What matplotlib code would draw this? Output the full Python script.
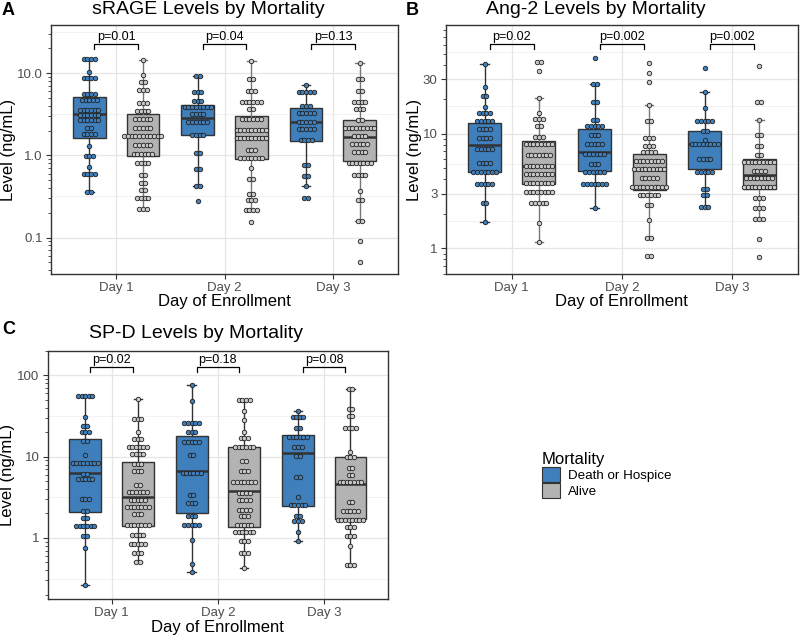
import matplotlib
matplotlib.use("Agg")
import matplotlib.pyplot as plt
from matplotlib.patches import Patch
from matplotlib.ticker import FixedLocator, LogLocator, NullFormatter
import matplotlib.transforms as mtransforms
import numpy as np

plt.rcParams['font.family'] = ['Liberation Sans', 'DejaVu Sans']

DAYS = ["Day 1", "Day 2", "Day 3"]
GROUPS = ["Death or Hospice", "Alive"]

# ---------------- sRAGE ----------------
SRAGE_D1_DEATH_V = [14.7, 10.3, 8.7, 5.5, 4.75, 3.6, 3.1, 2.66, 2.13, 1.8, 1.3, 0.99, 0.73, 0.6, 0.36]
SRAGE_D1_DEATH_N = [4, 1, 4, 4, 5, 6, 6, 6, 2, 4, 1, 3, 1, 4, 2]
SRAGE_D1_ALIVE_V = [14.3, 9.6, 7.9, 6.2, 4.36, 3.43, 2.77, 2.17, 1.70, 1.32, 1.04, 0.80, 0.58, 0.46, 0.375, 0.30, 0.22]
SRAGE_D1_ALIVE_N = [1, 1, 2, 3, 3, 4, 5, 5, 11, 5, 6, 4, 2, 2, 2, 4, 3]
SRAGE_D2_DEATH_V = [9.2, 5.94, 4.58, 3.87, 3.21, 2.57, 1.77, 1.07, 0.69, 0.42, 0.28]
SRAGE_D2_DEATH_N = [2, 3, 3, 8, 4, 6, 4, 2, 2, 2, 1]
SRAGE_D2_ALIVE_V = [14.2, 8.55, 6.0, 4.45, 3.65, 2.79, 2.03, 1.64, 1.17, 0.935, 0.695, 0.52, 0.34, 0.286, 0.216, 0.156]
SRAGE_D2_ALIVE_N = [1, 2, 3, 6, 2, 6, 9, 9, 3, 7, 1, 2, 2, 3, 4, 1]
SRAGE_D3_DEATH_V = [7.2, 5.9, 4.0, 3.3, 2.52, 2.11, 1.53, 0.77, 0.565, 0.42, 0.30]
SRAGE_D3_DEATH_N = [1, 5, 3, 5, 5, 5, 4, 2, 2, 1, 2]
SRAGE_D3_ALIVE_V = [13.4, 8.55, 6.06, 4.49, 3.66, 2.69, 2.17, 1.72, 1.37, 1.09, 0.81, 0.57, 0.37, 0.29, 0.16, 0.092, 0.050]
SRAGE_D3_ALIVE_N = [1, 2, 2, 4, 3, 2, 9, 4, 5, 4, 7, 4, 1, 2, 2, 1, 1]
# box stats, order: D1 death, D1 alive, D2 death, D2 alive, D3 death, D3 alive
SRAGE_WLO = [0.36, 0.22, 0.42, 0.216, 0.42, 0.16]
SRAGE_Q1 = [1.64, 0.98, 1.75, 0.91, 1.48, 0.86]
SRAGE_MED = [3.16, 1.72, 2.87, 1.67, 2.54, 1.67]
SRAGE_Q3 = [5.16, 3.18, 4.13, 2.98, 3.73, 2.67]
SRAGE_WHI = [14.7, 14.3, 9.2, 14.2, 7.2, 13.4]
SRAGE_P = ["p=0.01", "p=0.04", "p=0.13"]

# ---------------- Ang-2 ----------------
ANG2_D1_DEATH_V = [40.8, 25.7, 21.3, 17.1, 15.2, 12.9, 10.9, 9.2, 7.4, 5.52, 4.63, 3.66, 2.47, 1.71]
ANG2_D1_DEATH_N = [1, 1, 2, 1, 4, 5, 4, 4, 5, 4, 7, 5, 2, 1]
ANG2_D1_ALIVE_V = [42.5, 35.3, 20.6, 15.1, 13.5, 11.7, 9.4, 8.13, 6.47, 5.22, 4.45, 3.74, 3.12, 2.5, 1.66, 1.14]
ANG2_D1_ALIVE_N = [2, 1, 1, 1, 3, 2, 3, 8, 7, 8, 8, 8, 8, 5, 1, 1]
ANG2_D2_DEATH_V = [45.5, 27.3, 18.8, 13.2, 11.7, 9.75, 8.13, 6.65, 5.44, 4.63, 3.62, 2.25]
ANG2_D2_DEATH_N = [1, 2, 2, 2, 5, 3, 5, 6, 3, 6, 7, 1]
ANG2_D2_ALIVE_V = [41.1, 33.6, 28.4, 17.7, 13.0, 9.2, 7.81, 6.87, 5.78, 4.92, 4.1, 3.43, 2.9, 2.39, 1.75, 1.22, 0.86]
ANG2_D2_ALIVE_N = [1, 1, 1, 1, 2, 3, 3, 4, 8, 9, 5, 10, 6, 2, 1, 2, 2]
ANG2_D3_DEATH_V = [37.4, 23.0, 16.9, 12.9, 10.6, 8.8, 8.08, 6.01, 4.66, 3.27, 2.94, 2.3]
ANG2_D3_DEATH_N = [1, 1, 1, 5, 2, 1, 8, 4, 5, 2, 2, 3]
ANG2_D3_ALIVE_V = [39.2, 18.8, 13.2, 9.8, 7.76, 6.47, 5.66, 4.75, 4.1, 3.43, 2.75, 2.23, 1.81, 1.21, 0.84]
ANG2_D3_ALIVE_N = [1, 2, 1, 2, 2, 2, 9, 4, 8, 9, 3, 3, 3, 1, 1]
ANG2_WLO = [1.71, 1.14, 2.25, 1.22, 2.3, 1.81]
ANG2_Q1 = [4.63, 3.62, 4.7, 3.21, 4.92, 3.29]
ANG2_MED = [7.97, 5.22, 6.97, 4.82, 8.08, 4.39]
ANG2_Q3 = [12.4, 8.69, 11.0, 6.61, 10.6, 6.01]
ANG2_WHI = [40.8, 20.6, 27.3, 17.7, 23.0, 13.2]
ANG2_P = ["p=0.02", "p=0.002", "p=0.002"]

# ---------------- SP-D ----------------
SPD_D1_DEATH_V = [55.8, 30.5, 24.1, 20.3, 15.7, 10.4, 8.44, 6.18, 5.36, 3.05, 2.15, 1.75, 1.42, 1.06, 0.754, 0.264]
SPD_D1_DEATH_N = [5, 1, 2, 3, 2, 1, 8, 2, 5, 3, 2, 2, 6, 2, 1, 1]
SPD_D1_ALIVE_V = [51.2, 28.8, 20.3, 16.7, 13.2, 10.7, 8.13, 6.61, 4.53, 3.68, 2.93, 2.38, 1.97, 1.43, 1.1, 0.85, 0.66, 0.50]
SPD_D1_ALIVE_N = [1, 3, 1, 3, 6, 4, 3, 3, 2, 6, 5, 7, 3, 7, 4, 5, 3, 2]
SPD_D2_DEATH_V = [76.2, 48.9, 25.8, 20.1, 15.2, 10.5, 6.36, 3.41, 2.69, 1.88, 1.45, 0.935, 0.483, 0.385]
SPD_D2_DEATH_N = [1, 1, 5, 3, 5, 2, 6, 2, 3, 3, 5, 1, 1, 1]
SPD_D2_ALIVE_V = [49.4, 36.5, 28.0, 20.1, 17.1, 13.3, 8.77, 6.67, 4.89, 3.61, 2.9, 2.21, 1.86, 1.46, 1.17, 0.92, 0.65, 0.43]
SPD_D2_ALIVE_N = [4, 1, 1, 1, 3, 6, 2, 3, 7, 4, 4, 4, 3, 5, 6, 3, 3, 1]
SPD_D3_DEATH_V = [36.8, 30.5, 22.7, 17.5, 13.0, 10.1, 5.63, 3.22, 2.57, 1.88, 1.6, 1.19, 0.93]
SPD_D3_DEATH_N = [1, 4, 2, 6, 3, 2, 2, 1, 5, 2, 3, 1, 1]
SPD_D3_ALIVE_V = [68.7, 38.9, 31.7, 22.5, 11.5, 9.8, 7.26, 5.9, 4.84, 2.75, 2.17, 1.68, 1.38, 1.07, 0.80, 0.466]
SPD_D3_ALIVE_N = [2, 2, 2, 4, 1, 3, 2, 2, 7, 2, 5, 8, 3, 3, 1, 3]
SPD_WLO = [0.264, 0.50, 0.385, 0.43, 0.93, 0.466]
SPD_Q1 = [2.09, 1.42, 2.01, 1.38, 2.5, 1.7]
SPD_MED = [6.25, 3.22, 6.61, 3.75, 11.1, 4.57]
SPD_Q3 = [16.4, 8.6, 18.0, 13.2, 18.7, 9.8]
SPD_WHI = [55.8, 51.2, 76.2, 49.4, 36.8, 68.7]
SPD_P = ["p=0.02", "p=0.18", "p=0.08"]

# ---------------- style ----------------
BLUE = "#3F7FBC"
GRAY = "#B3B3B3"
DOT_GRAY = "#CACACA"
EDGE = "#333333"
OFFSET = 0.247
BOX_W = 0.30
DOT_STEP = 0.034

fig = plt.figure(figsize=(8, 6.37), dpi=100)


def draw_panel(rect, title, title_xy, letter, letter_xy, dots, wlo, q1, med, q3, whi,
               pvals, ylim, yticks, yticklabels, breaks, ylab_x, xlab_y, brk_y, alive_whisk):
    ax = fig.add_axes(rect)
    ax.set_yscale('log')
    ax.set_xlim(0.4, 3.6)
    ax.set_ylim(*ylim)
    # minor gridlines midway between breaks (log space), ggplot-style
    lb = np.log10(breaks)
    bd = lb[1] - lb[0]
    ext = np.concatenate([[lb[0] - bd], lb, [lb[-1] + bd]])
    for m in (ext[:-1] + ext[1:]) / 2:
        ax.axhline(10 ** m, color="#F0F0F0", lw=0.6, zorder=0)
    for b in breaks:
        ax.axhline(b, color="#E6E6E6", lw=0.9, zorder=0)
    for d in range(3):
        ax.axvline(d + 1, color="#E6E6E6", lw=0.9, zorder=0)

    # boxplots
    for g, (face, wcol) in enumerate([(BLUE, EDGE), (GRAY, alive_whisk)]):
        stats, pos = [], []
        for d in range(3):
            i = d * 2 + g
            stats.append(dict(whislo=wlo[i], q1=q1[i], med=med[i], q3=q3[i], whishi=whi[i], fliers=[]))
            pos.append(d + 1 + (-OFFSET if g == 0 else OFFSET))
        ax.bxp(stats, positions=pos, widths=BOX_W, patch_artist=True, showfliers=False,
               manage_ticks=False, capwidths=0.08,
               boxprops=dict(facecolor=face, edgecolor=EDGE, linewidth=1.0),
               medianprops=dict(color=EDGE, linewidth=1.8),
               whiskerprops=dict(color=wcol, linewidth=1.0),
               capprops=dict(color=wcol, linewidth=1.0))

    # dot rows
    for d in range(3):
        for g in range(2):
            vals, cnts = dots[d][g]
            x0 = d + 1 + (-OFFSET if g == 0 else OFFSET)
            xs, ys = [], []
            for v, n in zip(vals, cnts):
                off = (np.arange(n) - (n - 1) / 2) * DOT_STEP
                xs.extend(x0 + off)
                ys.extend([v] * n)
            ax.scatter(xs, ys, s=10.5, facecolor=BLUE if g == 0 else DOT_GRAY,
                       edgecolor="#222222", linewidths=0.6, zorder=5)

    # significance brackets
    tr = mtransforms.blended_transform_factory(ax.transData, ax.transAxes)
    for d in range(3):
        xl, xr = d + 1 - 0.2, d + 1 + 0.2
        ax.plot([xl, xl, xr, xr], [brk_y[1], brk_y[0], brk_y[0], brk_y[1]],
                color="black", lw=0.9, transform=tr, clip_on=False, zorder=6)
        ax.text(d + 1, brk_y[0] + 0.004, pvals[d], ha='center', va='bottom',
                fontsize=9, transform=tr, color="black")

    # axes styling
    ax.set_xticks([1, 2, 3])
    ax.set_xticklabels(DAYS)
    ax.yaxis.set_major_locator(FixedLocator(yticks))
    ax.set_yticklabels(yticklabels)
    ax.yaxis.set_minor_locator(LogLocator(base=10, subs=np.arange(2, 10)))
    ax.yaxis.set_minor_formatter(NullFormatter())
    ax.tick_params(axis='both', which='major', direction='out', length=3.5, width=0.8,
                   color=EDGE, labelcolor="#4D4D4D", labelsize=9.5, pad=2.5)
    ax.tick_params(axis='y', which='minor', direction='out', length=2.0, width=0.6, color=EDGE)
    for sp in ax.spines.values():
        sp.set_color(EDGE)
        sp.set_linewidth(1.0)
    ax.set_ylabel("Level (ng/mL)", fontsize=12)
    ax.yaxis.set_label_coords(ylab_x, 0.5)
    ax.set_xlabel("Day of Enrollment", fontsize=12)
    ax.xaxis.set_label_coords(0.5, xlab_y)

    fig.text(title_xy[0] / 800, 1 - title_xy[1] / 637, title, ha='center', va='center', fontsize=14)
    fig.text(letter_xy[0] / 800, 1 - letter_xy[1] / 637, letter, ha='left', va='top',
             fontsize=13, fontweight='bold')
    return ax


srage_dots = [[(SRAGE_D1_DEATH_V, SRAGE_D1_DEATH_N), (SRAGE_D1_ALIVE_V, SRAGE_D1_ALIVE_N)],
              [(SRAGE_D2_DEATH_V, SRAGE_D2_DEATH_N), (SRAGE_D2_ALIVE_V, SRAGE_D2_ALIVE_N)],
              [(SRAGE_D3_DEATH_V, SRAGE_D3_DEATH_N), (SRAGE_D3_ALIVE_V, SRAGE_D3_ALIVE_N)]]
ang2_dots = [[(ANG2_D1_DEATH_V, ANG2_D1_DEATH_N), (ANG2_D1_ALIVE_V, ANG2_D1_ALIVE_N)],
             [(ANG2_D2_DEATH_V, ANG2_D2_DEATH_N), (ANG2_D2_ALIVE_V, ANG2_D2_ALIVE_N)],
             [(ANG2_D3_DEATH_V, ANG2_D3_DEATH_N), (ANG2_D3_ALIVE_V, ANG2_D3_ALIVE_N)]]
spd_dots = [[(SPD_D1_DEATH_V, SPD_D1_DEATH_N), (SPD_D1_ALIVE_V, SPD_D1_ALIVE_N)],
            [(SPD_D2_DEATH_V, SPD_D2_DEATH_N), (SPD_D2_ALIVE_V, SPD_D2_ALIVE_N)],
            [(SPD_D3_DEATH_V, SPD_D3_DEATH_N), (SPD_D3_ALIVE_V, SPD_D3_ALIVE_N)]]

draw_panel([51 / 800, 1 - 274 / 637, 347 / 800, 249 / 637], "sRAGE Levels by Mortality", (208, 10),
           "A", (2, 2), srage_dots, SRAGE_WLO, SRAGE_Q1, SRAGE_MED, SRAGE_Q3, SRAGE_WHI,
           SRAGE_P, (0.036, 38.5), [0.1, 1, 10], ["0.1", "1.0", "10.0"], [0.1, 1, 10],
           -0.101, -0.08, (0.9225, 0.9024), "#777777")

draw_panel([445.7 / 800, 1 - 274 / 637, 352.3 / 800, 249 / 637], "Ang-2 Levels by Mortality", (596, 10),
           "B", (406, 2), ang2_dots, ANG2_WLO, ANG2_Q1, ANG2_MED, ANG2_Q3, ANG2_WHI,
           ANG2_P, (0.597, 88.9), [1, 3, 10, 30], ["1", "3", "10", "30"], [1, 3, 10, 30],
           -0.068, -0.08, (0.9225, 0.9036), "#777777")

draw_panel([47.7 / 800, 1 - 598.7 / 637, 340.3 / 800, 248 / 637], "SP-D Levels by Mortality", (196, 333),
           "C", (2, 321), spd_dots, SPD_WLO, SPD_Q1, SPD_MED, SPD_Q3, SPD_WHI,
           SPD_P, (0.179, 201), [1, 10, 100], ["1", "10", "100"], [1, 10, 100],
           -0.096, -0.085, (0.933, 0.914), EDGE)

handles = [Patch(facecolor=BLUE, edgecolor=EDGE, linewidth=0.8),
           Patch(facecolor=GRAY, edgecolor=EDGE, linewidth=0.8)]
leg = fig.legend(handles, GROUPS, title="Mortality", loc='upper left',
                 bbox_to_anchor=(535 / 800, 1 - 445 / 637), frameon=False, fontsize=9.6,
                 title_fontsize=12, handlelength=1.35, handleheight=1.35, labelspacing=0.05,
                 handletextpad=0.6, borderpad=0, alignment='left')

fig.savefig("out.png", dpi=100)
